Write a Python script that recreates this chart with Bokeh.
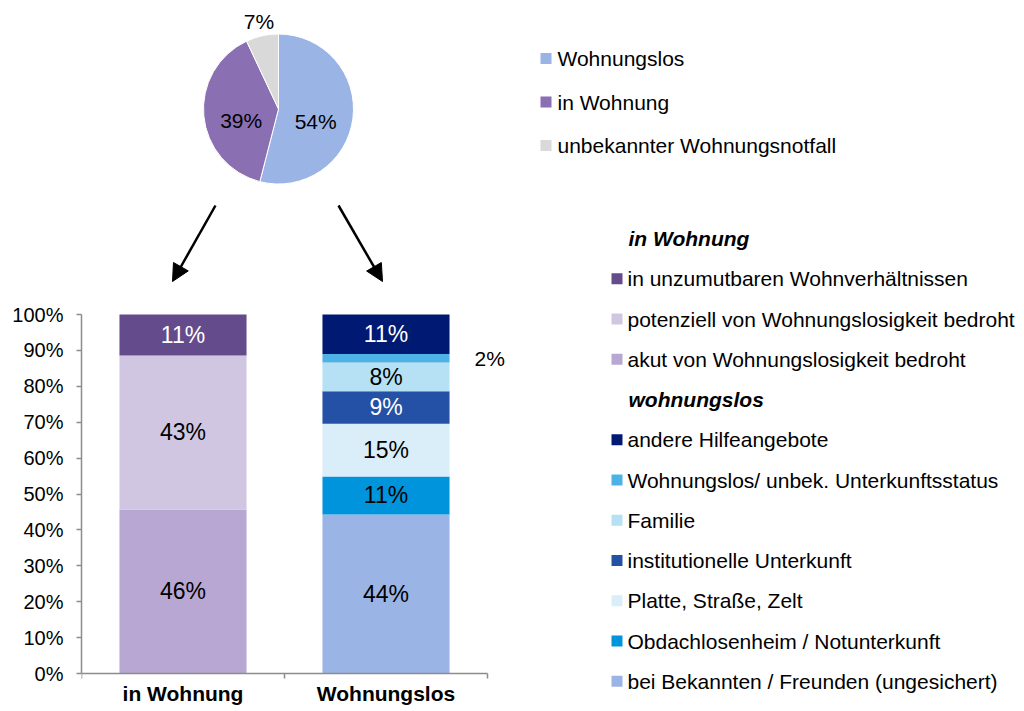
import numpy as np
from bokeh.plotting import figure
from bokeh.models import (Range1d, LinearAxis, FixedTicker, Arrow, NormalHead,
                          ColumnDataSource, PrintfTickFormatter)
from bokeh.core.properties import value
from bokeh.embed import file_html
from bokeh.resources import INLINE

# ---------------- data ----------------
pie_labels = ["Wohnungslos", "in Wohnung", "unbekannter Wohnungsnotfall"]
pie_values = [54, 39, 7]
pie_colors = ["#9BB4E6", "#8B6FB3", "#D9D9D9"]

bar_categories = ["in Wohnung", "Wohnungslos"]

inw_series = ["akut von Wohnungslosigkeit bedroht",
              "potenziell von Wohnungslosigkeit bedroht",
              "in unzumutbaren Wohnverhältnissen"]
inw_values = [45.7, 42.9, 11.4]
inw_colors = ["#B8A7D2", "#D0C6E2", "#644B8C"]

wl_series = ["bei Bekannten / Freunden (ungesichert)",
             "Obdachlosenheim / Notunterkunft",
             "Platte, Straße, Zelt",
             "institutionelle Unterkunft",
             "Familie",
             "Wohnungslos/ unbek. Unterkunftsstatus",
             "andere Hilfeangebote"]
wl_values = [44.3, 10.6, 14.7, 9.0, 8.0, 2.4, 11.0]
wl_colors = ["#9BB4E6", "#0094DC", "#DAEEF9", "#2450A6", "#B6E0F4", "#4DB2E6", "#001A73"]

y_ticks = list(range(0, 101, 10))

FONT = "Liberation Sans"
AXIS_COLOR = "#8C8C8C"

# ---------------- figure (page-pixel coordinates, y flipped up) ----------------
W, H = 1024, 711
FRAME_LEFT = 81
ZERO_PY = 673      # page y of the 0 % line
TOP_PY = 314       # page y of the 100 % line


def Y(py):
    return H - py


p = figure(width=W, height=H, x_range=Range1d(FRAME_LEFT, W),
           y_range=Range1d(0, H),
           x_axis_type=None, y_axis_type=None, toolbar_location=None,
           output_backend="svg", min_border_left=FRAME_LEFT,
           min_border_bottom=0, min_border_top=0, min_border_right=0,
           outline_line_color=None,
           background_fill_color="white", border_fill_color="white")

# bar chart scales
px_per_pct = (ZERO_PY - TOP_PY) / 100.0
cat_px = 203.0
p.extra_y_ranges = {"pct": Range1d(-(H - ZERO_PY) / px_per_pct, ZERO_PY / px_per_pct)}
p.extra_x_ranges = {"cat": Range1d(0, (W - FRAME_LEFT) / cat_px)}

yax = LinearAxis(y_range_name="pct", ticker=FixedTicker(ticks=y_ticks), bounds=(0, 100),
                 formatter=PrintfTickFormatter(format="%d%%"))
yax.major_tick_out = 5
yax.major_tick_in = 0
yax.minor_tick_out = 0
yax.minor_tick_in = 0
yax.axis_line_color = AXIS_COLOR
yax.axis_line_width = 1.5
yax.major_tick_line_color = AXIS_COLOR
yax.major_tick_line_width = 1.5
yax.major_label_text_font = FONT
yax.major_label_text_font_size = "20px"
yax.major_label_text_color = "black"
yax.major_label_standoff = 13
p.add_layout(yax, "left")

xax = LinearAxis(x_range_name="cat", y_range_name="pct", fixed_location=0,
                 ticker=FixedTicker(ticks=[0.5, 1.5], minor_ticks=[0, 1, 2]),
                 bounds=(0, len(bar_categories)),
                 major_label_overrides={0.5: bar_categories[0], 1.5: bar_categories[1]})
xax.major_tick_out = 0
xax.major_tick_in = 0
xax.minor_tick_out = 5
xax.minor_tick_in = 0
xax.axis_line_color = AXIS_COLOR
xax.axis_line_width = 1.5
xax.minor_tick_line_color = AXIS_COLOR
xax.minor_tick_line_width = 1.5
xax.major_label_text_font = FONT
xax.major_label_text_font_size = "21px"
xax.major_label_text_font_style = "bold"
xax.major_label_text_color = "black"
xax.major_label_standoff = 3
p.add_layout(xax, "below")

# ---------------- stacked bars ----------------
bar_w = 0.626


def lum(hexc):
    r, g, b = int(hexc[1:3], 16), int(hexc[3:5], 16), int(hexc[5:7], 16)
    return (0.299 * r + 0.587 * g + 0.114 * b) / 255.0


xs, bots, tops, cols = [], [], [], []
in_x, in_y, in_t, in_c = [], [], [], []
out_x, out_y, out_t = [], [], []
for ci, (vals, colors) in enumerate([(inw_values, inw_colors), (wl_values, wl_colors)]):
    cum = 0.0
    for v, c in zip(vals, colors):
        xs.append(ci + 0.5)
        bots.append(cum)
        tops.append(cum + v)
        cols.append(c)
        mid = cum + v / 2
        lab = f"{int(round(v))}%"
        if v >= 5:
            in_x.append(ci + 0.5)
            in_y.append(mid)
            in_t.append(lab)
            in_c.append("white" if lum(c) < 0.4 else "black")
        else:
            out_x.append(ci + 0.5 + bar_w / 2)
            out_y.append(mid)
            out_t.append(lab)
        cum += v

bsrc = ColumnDataSource(dict(x=xs, bottom=bots, top=tops, color=cols))
p.vbar(x="x", bottom="bottom", top="top", width=bar_w, color="color", line_color=None,
       source=bsrc, x_range_name="cat", y_range_name="pct")

lsrc = ColumnDataSource(dict(x=in_x, y=in_y, text=in_t, tc=in_c))
p.text(x="x", y="y", text="text", text_color="tc", source=lsrc,
       x_range_name="cat", y_range_name="pct", text_align="center", text_baseline="middle",
       text_font=value(FONT), text_font_size="23px")
p.text(x=out_x, y=out_y, text=out_t, x_range_name="cat", y_range_name="pct",
       text_align="left", text_baseline="middle", x_offset=25,
       text_font=value(FONT), text_font_size="21px", text_color="black")

# ---------------- pie ----------------
pcx, pcy, pr = 278, Y(108.5), 75
fr = np.array(pie_values, dtype=float) / sum(pie_values)
cum = np.concatenate([[0], np.cumsum(fr)])
starts = np.pi / 2 - 2 * np.pi * cum[1:]
ends = np.pi / 2 - 2 * np.pi * cum[:-1]
p.wedge(x=pcx, y=pcy, radius=pr, start_angle=starts, end_angle=ends,
        fill_color=pie_colors, line_color="white", line_width=1)
mids_a = (starts + ends) / 2
inside = np.array(pie_values) >= 10
dist = np.where(inside, 0.5 * pr, 1.19 * pr)
plx = pcx + dist * np.cos(mids_a)
ply = pcy + dist * np.sin(mids_a)
p.text(x=plx[inside], y=ply[inside], text=[f"{v}%" for v, k in zip(pie_values, inside) if k],
       text_align="center", text_baseline="middle", y_offset=8,
       text_font=value(FONT), text_font_size="21px", text_color="black")
p.text(x=plx[~inside], y=ply[~inside], text=[f"{v}%" for v, k in zip(pie_values, inside) if not k],
       text_align="center", text_baseline="middle",
       text_font=value(FONT), text_font_size="21px", text_color="black")

# ---------------- arrows ----------------
for xs0, ys0, xe, ye in [(215, 205, 172, 281), (338, 205, 382, 281)]:
    p.add_layout(Arrow(x_start=xs0, y_start=Y(ys0), x_end=xe, y_end=Y(ye), line_width=2.5,
                       line_color="black",
                       end=NormalHead(size=17, fill_color="black", line_color="black",
                                      line_width=1)))

# ---------------- legend 1 (pie) ----------------
l1_y = [Y(58 + 43.5 * i) for i in range(len(pie_labels))]
p.scatter(x=[545.5] * len(pie_labels), y=l1_y, marker="square", size=11,
          fill_color=pie_colors, line_color=None)
p.text(x=[557] * len(pie_labels), y=l1_y, text=pie_labels, text_align="left",
       text_baseline="middle", text_font=value(FONT), text_font_size="21px", text_color="black")

# ---------------- legend 2 (bars) ----------------
rows = [("in Wohnung", None)]
rows += [(s, c) for s, c in zip(inw_series[::-1], inw_colors[::-1])]
rows += [("wohnungslos", None)]
rows += [(s, c) for s, c in zip(wl_series[::-1], wl_colors[::-1])]
row_y = [Y(238 + 40.25 * i) for i in range(len(rows))]
hy, ht = [], []
iy, it, ic = [], [], []
for (name, c), yy in zip(rows, row_y):
    if c is None:
        hy.append(yy)
        ht.append(name)
    else:
        iy.append(yy)
        it.append(name)
        ic.append(c)
p.text(x=[628] * len(ht), y=hy, text=ht, text_align="left", text_baseline="middle",
       text_font=value(FONT), text_font_size="21px", text_font_style="bold italic",
       text_color="black")
p.scatter(x=[616.5] * len(it), y=iy, marker="square", size=11, fill_color=ic, line_color=None)
p.text(x=[627] * len(it), y=iy, text=it, text_align="left", text_baseline="middle",
       text_font=value(FONT), text_font_size="21px", text_color="black")

open("out.html", "w").write(file_html(p, INLINE))
